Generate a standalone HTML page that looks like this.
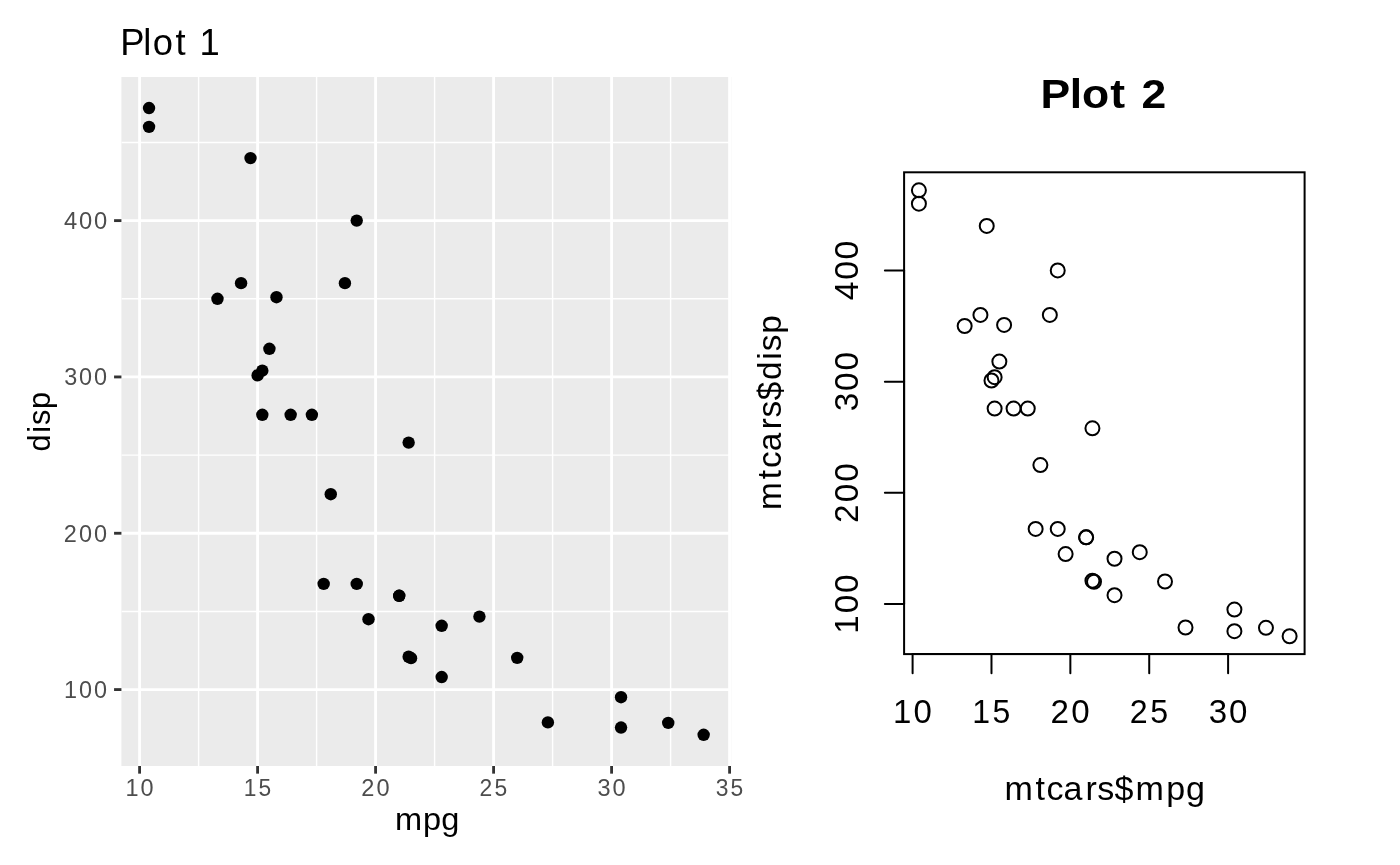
<!DOCTYPE html>
<html><head><meta charset="utf-8"><title>Plot 1 / Plot 2</title>
<style>html,body{margin:0;padding:0;background:#fff;}body{width:1400px;height:865px;overflow:hidden;font-family:"Liberation Sans",sans-serif;}svg{display:block;will-change:transform}</style>
</head><body>
<svg width="1400" height="865" viewBox="0 0 1400 865" font-family="'Liberation Sans', sans-serif">
<rect width="1400" height="865" fill="#fff"/>
<rect x="121.4" y="77.0" width="609.8" height="689.0" fill="#EBEBEB"/>
<clipPath id="c1"><rect x="121.4" y="77.0" width="609.8" height="689.0"/></clipPath>
<g clip-path="url(#c1)" stroke="#fff" fill="none">
<path d="M121.4 611.42H731.2" stroke-width="1.42"/>
<path d="M121.4 455.10H731.2" stroke-width="1.42"/>
<path d="M121.4 298.78H731.2" stroke-width="1.42"/>
<path d="M121.4 142.46H731.2" stroke-width="1.42"/>
<path d="M198.60 77.0V766.0" stroke-width="1.42"/>
<path d="M316.60 77.0V766.0" stroke-width="1.42"/>
<path d="M434.60 77.0V766.0" stroke-width="1.42"/>
<path d="M552.60 77.0V766.0" stroke-width="1.42"/>
<path d="M670.60 77.0V766.0" stroke-width="1.42"/>
<path d="M121.4 689.58H731.2" stroke-width="2.85"/>
<path d="M121.4 533.26H731.2" stroke-width="2.85"/>
<path d="M121.4 376.94H731.2" stroke-width="2.85"/>
<path d="M121.4 220.62H731.2" stroke-width="2.85"/>
<path d="M139.60 77.0V766.0" stroke-width="2.85"/>
<path d="M257.60 77.0V766.0" stroke-width="2.85"/>
<path d="M375.60 77.0V766.0" stroke-width="2.85"/>
<path d="M493.60 77.0V766.0" stroke-width="2.85"/>
<path d="M611.60 77.0V766.0" stroke-width="2.85"/>
<path d="M729.60 77.0V766.0" stroke-width="2.85"/>
</g>
<g fill="#000">
<circle cx="399.20" cy="595.79" r="6.2"/>
<circle cx="399.20" cy="595.79" r="6.2"/>
<circle cx="441.68" cy="677.07" r="6.2"/>
<circle cx="408.64" cy="442.59" r="6.2"/>
<circle cx="344.92" cy="283.15" r="6.2"/>
<circle cx="330.76" cy="494.18" r="6.2"/>
<circle cx="241.08" cy="283.15" r="6.2"/>
<circle cx="479.44" cy="616.58" r="6.2"/>
<circle cx="441.68" cy="625.80" r="6.2"/>
<circle cx="356.72" cy="583.91" r="6.2"/>
<circle cx="323.68" cy="583.91" r="6.2"/>
<circle cx="290.64" cy="414.77" r="6.2"/>
<circle cx="311.88" cy="414.77" r="6.2"/>
<circle cx="262.32" cy="414.77" r="6.2"/>
<circle cx="149.04" cy="108.07" r="6.2"/>
<circle cx="149.04" cy="126.83" r="6.2"/>
<circle cx="250.52" cy="158.09" r="6.2"/>
<circle cx="668.24" cy="722.88" r="6.2"/>
<circle cx="621.04" cy="727.57" r="6.2"/>
<circle cx="703.64" cy="734.76" r="6.2"/>
<circle cx="411.00" cy="658.16" r="6.2"/>
<circle cx="269.40" cy="348.80" r="6.2"/>
<circle cx="262.32" cy="370.69" r="6.2"/>
<circle cx="217.48" cy="298.78" r="6.2"/>
<circle cx="356.72" cy="220.62" r="6.2"/>
<circle cx="547.88" cy="722.41" r="6.2"/>
<circle cx="517.20" cy="657.85" r="6.2"/>
<circle cx="621.04" cy="697.24" r="6.2"/>
<circle cx="276.48" cy="297.22" r="6.2"/>
<circle cx="368.52" cy="619.24" r="6.2"/>
<circle cx="257.60" cy="375.38" r="6.2"/>
<circle cx="408.64" cy="656.75" r="6.2"/>
</g>
<g stroke="#333" stroke-width="2.85" fill="none">
<path d="M114.07 689.58H121.4"/>
<path d="M114.07 533.26H121.4"/>
<path d="M114.07 376.94H121.4"/>
<path d="M114.07 220.62H121.4"/>
<path d="M139.60 766.0V773.65"/>
<path d="M257.60 766.0V773.65"/>
<path d="M375.60 766.0V773.65"/>
<path d="M493.60 766.0V773.65"/>
<path d="M611.60 766.0V773.65"/>
<path d="M729.60 766.0V773.65"/>
</g>
<text transform="translate(121.10 55.14) scale(0.9804 1)" x="-0.94 22.52 32.30 55.39 67.67 80.00" font-size="37.10" fill="#000">Plot 1</text>
<text transform="translate(108.00 697.89) scale(0.9691 1)" x="-45.36 -29.84 -14.43" font-size="24.17" fill="#4D4D4D">100</text>
<text transform="translate(108.00 541.57) scale(0.9714 1)" x="-45.48 -29.78 -14.41" font-size="24.17" fill="#4D4D4D">200</text>
<text transform="translate(108.00 385.25) scale(0.9699 1)" x="-45.19 -29.82 -14.42" font-size="24.17" fill="#4D4D4D">300</text>
<text transform="translate(108.00 228.93) scale(0.9829 1)" x="-44.71 -29.51 -14.32" font-size="24.17" fill="#4D4D4D">400</text>
<text transform="translate(139.60 795.81) scale(0.9719 1)" x="-14.52 0.96" font-size="24.17" fill="#4D4D4D">10</text>
<text transform="translate(257.60 795.81) scale(0.9289 1)" x="-14.97 1.11" font-size="24.52" fill="#4D4D4D">15</text>
<text transform="translate(375.60 795.81) scale(0.9756 1)" x="-14.70 0.93" font-size="24.17" fill="#4D4D4D">20</text>
<text transform="translate(493.60 795.81) scale(0.9470 1)" x="-14.94 1.06" font-size="24.17" fill="#4D4D4D">25</text>
<text transform="translate(611.60 795.81) scale(0.9735 1)" x="-14.37 0.94" font-size="24.17" fill="#4D4D4D">30</text>
<text transform="translate(729.60 795.81) scale(0.9455 1)" x="-14.59 1.07" font-size="24.17" fill="#4D4D4D">35</text>
<text transform="translate(394.10 830.00) scale(1.0592 1)" x="0.76 27.37 44.64" font-size="30.74" fill="#000">mpg</text>
<text transform="translate(49.97 451.99) rotate(-90) scale(0.9960 1)" x="0.62 19.38 27.07 43.20" font-size="30.74" fill="#000">disp</text>
<rect x="904.1" y="172.3" width="400.5" height="481.8" fill="none" stroke="#000" stroke-width="2"/>
<g stroke="#000" stroke-width="2" fill="none" stroke-linecap="round">
<path d="M912.60 654.1H1228.10"/>
<path d="M912.60 654.1V673.30"/>
<path d="M991.48 654.1V673.30"/>
<path d="M1070.35 654.1V673.30"/>
<path d="M1149.22 654.1V673.30"/>
<path d="M1228.10 654.1V673.30"/>
<path d="M904.1 604.11V270.39"/>
<path d="M904.1 604.11H884.90"/>
<path d="M904.1 492.87H884.90"/>
<path d="M904.1 381.63H884.90"/>
<path d="M904.1 270.39H884.90"/>
<circle cx="1086.12" cy="537.37" r="7"/>
<circle cx="1086.12" cy="537.37" r="7"/>
<circle cx="1114.52" cy="595.21" r="7"/>
<circle cx="1092.43" cy="428.35" r="7"/>
<circle cx="1049.84" cy="314.89" r="7"/>
<circle cx="1040.38" cy="465.06" r="7"/>
<circle cx="980.43" cy="314.89" r="7"/>
<circle cx="1139.76" cy="552.16" r="7"/>
<circle cx="1114.52" cy="558.73" r="7"/>
<circle cx="1057.73" cy="528.91" r="7"/>
<circle cx="1035.64" cy="528.91" r="7"/>
<circle cx="1013.56" cy="408.55" r="7"/>
<circle cx="1027.76" cy="408.55" r="7"/>
<circle cx="994.63" cy="408.55" r="7"/>
<circle cx="918.91" cy="190.30" r="7"/>
<circle cx="918.91" cy="203.65" r="7"/>
<circle cx="986.74" cy="225.90" r="7"/>
<circle cx="1265.96" cy="627.81" r="7"/>
<circle cx="1234.41" cy="631.14" r="7"/>
<circle cx="1289.62" cy="636.26" r="7"/>
<circle cx="1094.01" cy="581.75" r="7"/>
<circle cx="999.36" cy="361.61" r="7"/>
<circle cx="994.63" cy="377.18" r="7"/>
<circle cx="964.66" cy="326.01" r="7"/>
<circle cx="1057.73" cy="270.39" r="7"/>
<circle cx="1185.51" cy="627.47" r="7"/>
<circle cx="1165.00" cy="581.53" r="7"/>
<circle cx="1234.41" cy="609.56" r="7"/>
<circle cx="1004.10" cy="324.90" r="7"/>
<circle cx="1065.62" cy="554.06" r="7"/>
<circle cx="991.48" cy="380.52" r="7"/>
<circle cx="1092.43" cy="580.75" r="7"/>
</g>
<text transform="translate(1041.09 108.15) scale(1.0996 1)" x="-0.47 25.98 37.20 62.99 78.25 91.28" font-size="40.47" font-weight="700" fill="#000">Plot 2</text>
<text transform="translate(912.60 722.68) scale(1.0020 1)" x="-19.49 0.99" font-size="32.95" fill="#000">10</text>
<text transform="translate(991.48 722.67) scale(0.9577 1)" x="-20.09 1.19" font-size="33.43" fill="#000">15</text>
<text transform="translate(1070.35 722.68) scale(1.0057 1)" x="-19.71 0.95" font-size="32.95" fill="#000">20</text>
<text transform="translate(1149.22 722.68) scale(0.9763 1)" x="-20.03 1.13" font-size="32.95" fill="#000">25</text>
<text transform="translate(1228.10 722.68) scale(1.0036 1)" x="-19.27 0.97" font-size="32.95" fill="#000">30</text>
<text transform="translate(857.78 604.11) rotate(-90) scale(1.0095 1)" x="-29.50 -9.17 11.00" font-size="32.95" fill="#000">100</text>
<text transform="translate(857.78 492.87) rotate(-90) scale(1.0119 1)" x="-29.71 -9.17 10.95" font-size="32.95" fill="#000">200</text>
<text transform="translate(857.78 381.63) rotate(-90) scale(1.0103 1)" x="-29.28 -9.17 10.98" font-size="32.95" fill="#000">300</text>
<text transform="translate(857.78 270.39) rotate(-90) scale(1.0238 1)" x="-29.06 -9.17 10.72" font-size="32.95" fill="#000">400</text>
<text transform="translate(1003.00 799.60) scale(1.0153 1)" x="1.47 32.14 42.96 59.52 81.19 92.71 109.87 130.60 160.70 180.33" font-size="33.54" fill="#000">mtcars$mpg</text>
<text transform="translate(781.30 511.88) rotate(-90) scale(0.9938 1)" x="1.80 32.94 44.08 61.03 83.09 94.89 112.45 132.62 153.13 161.54 179.19" font-size="33.54" fill="#000">mtcars$disp</text>
</svg>
</body></html>
